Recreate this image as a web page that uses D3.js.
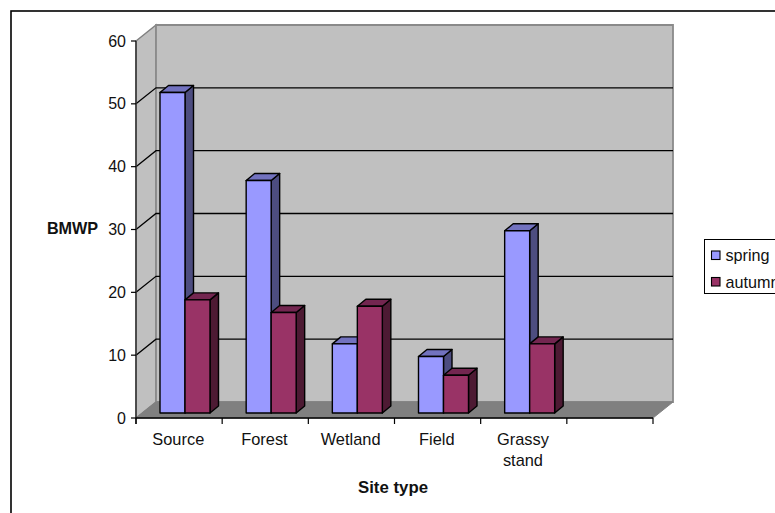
<!DOCTYPE html>
<html>
<head>
<meta charset="utf-8">
<script src="https://cdn.jsdelivr.net/npm/d3@7"></script>
<style>
html,body{margin:0;padding:0;background:#fff;overflow:hidden}
svg{display:block}
text{font-family:"Liberation Sans",Arial,sans-serif;fill:#111}
</style>
</head>
<body>
<script>
const categories = [["Source"], ["Forest"], ["Wetland"], ["Field"], ["Grassy", "stand"], [""]];
const spring = [51, 37, 11, 9, 29];
const autumn = [18, 16, 17, 6, 11];
const seriesNames = ["spring", "autumn"];
const yTicks = [0, 10, 20, 30, 40, 50, 60];

const W = 775, H = 513;
const svg = d3.select("body").append("svg").attr("width", W).attr("height", H);

// Outer chart frame runs past the right and bottom of the page
svg.append("rect").attr("x", 11).attr("y", 11).attr("width", 800).attr("height", 540)
  .attr("fill", "#fff").attr("stroke", "#000").attr("stroke-width", 1.6);

// Oblique projection: front plane plus a fixed depth offset
const x = d3.scaleBand().domain(d3.range(categories.length)).range([136, 653]);
const y = d3.scaleLinear().domain([0, 60]).range([418, 41]);
const depth = { dx: 20, dy: -16 };
const barDepth = { dx: 8.5, dy: -7 };
const barShift = { dx: 6, dy: -5 };
const barW = 25;
const barOffset = 18;

const pts = a => a.map(p => p.join(",")).join(" ");
const [x0, x1] = x.range();

// Back wall, side wall, floor
svg.append("polygon")
  .attr("points", pts([[x0, y(0)], [x0 + depth.dx, y(0) + depth.dy], [x0 + depth.dx, y(60) + depth.dy], [x0, y(60)]]))
  .attr("fill", "#c0c0c0").attr("stroke", "#808080").attr("stroke-width", 1.5);
svg.append("polygon")
  .attr("points", pts([[x0 + depth.dx, y(0) + depth.dy], [x1 + depth.dx, y(0) + depth.dy], [x1 + depth.dx, y(60) + depth.dy], [x0 + depth.dx, y(60) + depth.dy]]))
  .attr("fill", "#c0c0c0").attr("stroke", "#8a8a8a").attr("stroke-width", 1.8);
svg.append("polygon")
  .attr("points", pts([[x0, y(0)], [x1, y(0)], [x1 + depth.dx, y(0) + depth.dy], [x0 + depth.dx, y(0) + depth.dy]]))
  .attr("fill", "#808080").attr("stroke", "#808080");

// Gridlines wrap from the side wall onto the back wall
svg.append("g").selectAll("polyline").data(yTicks.slice(1, -1)).join("polyline")
  .attr("points", d => pts([[x0, y(d)], [x0 + depth.dx, y(d) + depth.dy], [x1 + depth.dx, y(d) + depth.dy]]))
  .attr("fill", "none").attr("stroke", "#000").attr("stroke-width", 1.3);

// Axis lines and ticks
const axis = svg.append("g").attr("stroke", "#000");
axis.append("line").attr("x1", x0).attr("x2", x0).attr("y1", y(60)).attr("y2", y(0) + 6).attr("stroke-width", 1.5).attr("stroke", "#333");
axis.append("line").attr("x1", x0).attr("x2", x1).attr("y1", y(0)).attr("y2", y(0)).attr("stroke-width", 1.4);
axis.selectAll(".yt").data(yTicks).join("line").attr("class", "yt")
  .attr("x1", x0 - 5).attr("x2", x0).attr("y1", d => y(d)).attr("y2", d => y(d)).attr("stroke-width", 1.2);
axis.selectAll(".xt").data(d3.range(categories.length + 1)).join("line").attr("class", "xt")
  .attr("x1", i => x0 + i * x.bandwidth()).attr("x2", i => x0 + i * x.bandwidth())
  .attr("y1", y(0)).attr("y2", y(0) + 6).attr("stroke-width", 1.2);

// One 3D bar: front, right side, top
function bar(g, i, v, slot, c) {
  const l = x(i) + barOffset + barShift.dx + slot * barW, r = l + barW;
  const b = y(0) + barShift.dy, t = b - (y(0) - y(v));
  const d = barDepth;
  const s = { stroke: "#000", "stroke-width": 1.4, "stroke-linejoin": "round" };
  const add = (p, f) => {
    const e = g.append("polygon").attr("points", pts(p)).attr("fill", f);
    Object.entries(s).forEach(([k, val]) => e.attr(k, val));
  };
  add([[r, b], [r + d.dx, b + d.dy], [r + d.dx, t + d.dy], [r, t]], c.side);
  add([[l, t], [r, t], [r + d.dx, t + d.dy], [l + d.dx, t + d.dy]], c.top);
  add([[l, t], [r, t], [r, b], [l, b]], c.front);
}
const colors = [
  { front: "#9999ff", side: "#4d4d80", top: "#7272bf" },
  { front: "#993366", side: "#4d1a33", top: "#732650" }
];
const bars = svg.append("g");
spring.forEach((v, i) => {
  bar(bars, i, v, 0, colors[0]);
  bar(bars, i, autumn[i], 1, colors[1]);
});

// Value labels
svg.append("g").selectAll("text").data(yTicks).join("text")
  .attr("x", 126).attr("y", d => y(d) + 5.5).attr("text-anchor", "end")
  .attr("font-size", 16).text(d => d);

// Category labels
const catG = svg.append("g").selectAll("text").data(categories).join("text")
  .attr("text-anchor", "middle").attr("font-size", 16.4);
catG.each(function (lines, i) {
  d3.select(this).selectAll("tspan").data(lines).join("tspan")
    .attr("x", x(i) + x.bandwidth() / 2 - 0.8)
    .attr("y", (d, k) => 445 + k * 21)
    .text(d => d);
});

// Axis titles
svg.append("text").attr("x", 72.5).attr("y", 234).attr("text-anchor", "middle")
  .attr("font-size", 16.2).attr("font-weight", "bold").text("BMWP");
svg.append("text").attr("x", 393).attr("y", 492.7).attr("text-anchor", "middle")
  .attr("font-size", 16.8).attr("font-weight", "bold").text("Site type");

// Legend, partly past the right edge of the page
svg.append("rect").attr("x", 704.5).attr("y", 239.5).attr("width", 120).attr("height", 54)
  .attr("fill", "#fff").attr("stroke", "#000").attr("stroke-width", 1);
const leg = svg.append("g").selectAll("g").data(seriesNames).join("g")
  .attr("transform", (d, i) => `translate(0,${i * 26.5})`);
leg.append("rect").attr("x", 711.5).attr("y", 251).attr("width", 8.5).attr("height", 8.5)
  .attr("fill", (d, i) => colors[i].front).attr("stroke", "#000").attr("stroke-width", 1.1);
leg.append("text").attr("x", 725.5).attr("y", 261).attr("font-size", 16.2).text(d => d);
</script>
</body>
</html>
